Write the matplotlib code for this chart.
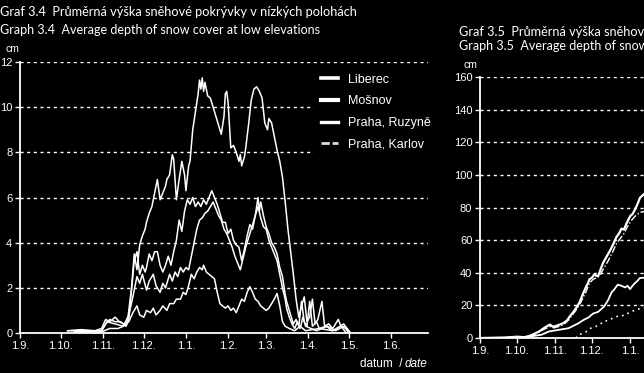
import matplotlib
matplotlib.use("Agg")
import matplotlib.pyplot as plt
from matplotlib.lines import Line2D

# days counted from 1 September
month_days = [0, 30, 61, 91, 122, 153, 181, 212, 242, 273]
month_labels = ["1.9.", "1.10.", "1.11.", "1.12.", "1.1.", "1.2.", "1.3.", "1.4.", "1.5.", "1.6."]

# --- Graph 3.4 (low elevations), cm
liberec_d = [35, 45, 55, 60, 63, 66, 70, 73, 76, 79, 82, 84, 86, 88, 90, 92, 93, 95, 97, 99, 101, 103,
             105, 107, 108, 110, 112, 113, 115, 117, 119, 121, 122, 124, 125, 127, 129, 131, 132, 133,
             134, 135, 136, 138, 140, 142, 144, 146, 148, 150, 151, 152, 153, 154, 155, 157, 159, 161,
             162, 163, 165, 166, 168, 170, 172, 174, 176, 178, 180, 182, 183, 185, 187, 189, 191, 193,
             195, 197, 199, 201, 203, 205, 207, 209, 211, 213, 215, 217, 219, 222, 224, 227, 230, 234,
             236, 240, 243]
liberec_v = [0.1, 0.15, 0.1, 0.2, 0.6, 0.5, 0.7, 0.5, 0.4, 0.5, 2.0, 3.5, 2.8, 3.9, 4.3, 4.6, 4.9, 5.3,
             5.6, 6.2, 6.8, 5.9, 6.2, 6.5, 6.8, 7.0, 7.9, 7.7, 5.9, 6.8, 7.6, 7.0, 6.3, 7.4, 7.6, 9.0,
             9.8, 10.6, 11.2, 10.8, 11.3, 10.7, 11.1, 10.5, 10.4, 10.0, 9.6, 9.2, 8.8, 9.6, 10.6, 10.7,
             10.2, 9.2, 8.2, 8.3, 8.0, 7.6, 7.9, 7.4, 7.8, 8.2, 9.2, 10.3, 10.8, 10.9, 10.7, 10.4, 9.3,
             9.0, 9.5, 9.3, 8.7, 8.1, 7.6, 6.9, 5.8, 4.6, 3.6, 2.6, 1.5, 0.7, 1.2, 1.6, 0.5, 0.7, 1.5,
             0.4, 0.6, 1.4, 0.3, 0.4, 0.2, 0.6, 0.3, 0.2, 0.0]

ruzyne_d = [35, 50, 60, 63, 66, 70, 74, 78, 80, 82, 84, 86, 88, 90, 92, 93, 95, 97, 99, 101, 103, 105,
            107, 109, 111, 113, 115, 117, 119, 121, 123, 125, 127, 129, 131, 133, 135, 137, 139, 141,
            143, 145, 147, 149, 151, 153, 155, 157, 159, 161, 163, 165, 167, 169, 171, 173, 175, 176,
            177, 179, 181, 183, 185, 187, 189, 191, 193, 195, 196, 198, 200, 201, 203, 205, 207, 209,
            211, 213, 215, 218, 220, 225, 230, 238, 243]
ruzyne_v = [0.1, 0.1, 0.1, 0.4, 0.6, 0.5, 0.5, 0.3, 0.6, 1.9, 3.2, 3.6, 2.6, 3.0, 2.7, 2.9, 3.5, 3.2,
            3.6, 3.6, 3.0, 2.7, 3.0, 3.4, 3.0, 3.6, 4.1, 5.0, 4.5, 5.4, 5.9, 5.7, 6.0, 5.6, 5.8, 5.6,
            5.9, 5.7, 6.0, 6.3, 6.0, 5.7, 5.3, 4.9, 4.9, 4.4, 4.6, 4.1, 3.9, 3.8, 3.2, 3.7, 4.3, 4.8,
            4.6, 5.2, 6.0, 5.4, 5.8, 5.2, 4.7, 4.4, 4.0, 3.8, 3.5, 2.9, 2.5, 1.7, 1.4, 1.0, 0.6, 0.4,
            0.6, 0.3, 1.4, 0.5, 0.3, 1.4, 0.3, 0.5, 0.2, 0.3, 0.1, 0.4, 0.0]

mosnov_d = [40, 60, 64, 70, 76, 80, 83, 86, 88, 90, 93, 95, 98, 100, 103, 105, 107, 110, 112, 114, 116,
            118, 120, 122, 124, 126, 128, 130, 132, 134, 136, 138, 140, 142, 144, 146, 148, 150, 152,
            154, 156, 158, 160, 162, 164, 166, 168, 170, 172, 174, 175, 177, 179, 181, 183, 185, 187,
            189, 191, 193, 195, 196, 198, 200, 202, 204, 206, 208, 210, 214, 218, 226, 232, 238, 242]
mosnov_v = [0.05, 0.1, 0.5, 0.4, 0.3, 0.8, 1.6, 2.5, 2.2, 2.6, 1.9, 2.3, 2.6, 2.1, 1.8, 2.2, 2.0, 2.6,
            2.3, 2.7, 2.5, 2.9, 2.7, 2.9, 2.8, 3.4, 4.0, 4.6, 5.0, 5.1, 5.3, 5.4, 5.6, 5.8, 5.5, 5.2,
            5.0, 4.6, 4.4, 4.1, 3.8, 3.4, 3.1, 2.8, 3.3, 3.8, 4.2, 4.6, 5.0, 5.4, 5.6, 5.1, 4.7, 4.6,
            4.1, 3.8, 3.5, 3.2, 2.6, 2.0, 1.5, 1.1, 0.7, 0.4, 0.2, 0.5, 0.2, 0.7, 0.3, 0.2, 0.1, 0.3,
            0.1, 0.3, 0.0]

karlov_d = [40, 60, 66, 72, 76, 80, 83, 86, 88, 91, 93, 96, 98, 100, 103, 105, 108, 110, 113, 115, 118,
            120, 122, 124, 126, 128, 130, 132, 134, 135, 137, 139, 141, 143, 145, 147, 149, 151, 153,
            155, 157, 159, 161, 163, 165, 167, 169, 171, 173, 175, 177, 179, 181, 183, 185, 187, 189,
            191, 193, 195, 198, 202, 206, 210, 220, 230, 236, 240]
karlov_v = [0.05, 0.05, 0.2, 0.2, 0.3, 0.5, 0.9, 1.2, 0.8, 0.7, 1.0, 0.9, 1.1, 0.8, 1.0, 1.2, 1.0, 1.3,
            1.3, 1.5, 1.5, 1.8, 1.7, 2.1, 2.6, 2.4, 2.7, 2.9, 2.8, 3.0, 2.7, 2.6, 2.5, 2.4, 1.8, 1.3,
            1.2, 1.1, 1.2, 1.0, 1.1, 0.9, 1.2, 1.5, 1.4, 1.8, 2.05, 1.8, 1.5, 1.4, 1.2, 1.1, 1.0, 1.1,
            1.3, 1.5, 1.75, 1.2, 0.5, 0.3, 0.2, 0.1, 0.3, 0.1, 0.2, 0.1, 0.3, 0.0]

# --- Graph 3.5 (high elevations), cm  (only the visible part)
high1_d = [0, 20, 30, 36, 40, 44, 48, 52, 55, 57, 59, 61, 64, 68, 71, 73, 76, 79, 81, 84, 86, 88, 89,
           91, 93, 95, 96, 98, 100, 103, 106, 108, 111, 113, 115, 117, 119, 122, 124, 126, 128, 130, 133, 136]
high1_v = [0, 0.2, 0.8, 0.5, 1.2, 2.5, 4, 6.1, 7.5, 8.2, 7.0, 7.2, 8.0, 9.2, 11, 13.3, 16, 19.4, 22,
           27.6, 31, 34, 36, 37, 39, 38, 37.8, 42, 46, 50, 54, 57, 62, 64, 67, 66.5, 70, 74.6, 76,
           78.7, 82, 85.9, 88, 90]
high2_d = [0, 30, 40, 46, 50, 54, 57, 60, 64, 68, 72, 75, 78, 82, 86, 89, 92, 95, 98, 100, 104, 108,
           111, 114, 117, 120, 123, 126, 130, 136]
high2_v = [0, 0.5, 1, 3, 4.5, 6, 7, 6.2, 7, 8.2, 11, 14, 17, 22, 28, 33.7, 36, 37, 39, 42, 47, 53, 58,
           61, 64, 68.5, 72, 74.6, 77, 78]
high3_d = [0, 30, 40, 50, 56, 60, 64, 68, 72, 76, 80, 84, 88, 92, 96, 99, 101, 104, 107, 109, 112, 115,
           118, 120, 122, 124, 126, 128, 130, 136]
high3_v = [0, 0.3, 0.8, 2, 4, 4.5, 5, 5.5, 6, 7.5, 9, 11, 12.5, 15, 16, 18, 19.4, 23, 28, 29.6, 32.7,
           32, 31, 32, 30, 32, 33.7, 35, 36.8, 37]
high4_d = [78, 80, 84, 88, 90, 94, 98, 100, 105, 110, 114, 118, 122, 126, 130, 136]
high4_v = [0, 2, 3, 4.5, 6, 7, 8.5, 10, 11, 13, 13.5, 14, 16, 17, 18, 18.6]

BG = "black"
FG = "white"
plt.rcParams["font.family"] = ["Liberation Sans Narrow", "Liberation Sans", "DejaVu Sans"]
plt.rcParams["text.color"] = FG

fig = plt.figure(figsize=(6.44, 3.73), dpi=100, facecolor=BG)
W, H = 644.0, 373.0


def style_axes(ax, yticks, nlab):
    ax.set_facecolor(BG)
    for s in ["top", "right"]:
        ax.spines[s].set_visible(False)
    for s in ["left", "bottom"]:
        ax.spines[s].set_color(FG)
        ax.spines[s].set_linewidth(1.3)
    ax.set_xlim(0, 300)
    ax.set_xticks(month_days[:nlab])
    ax.set_xticklabels(month_labels[:nlab])
    ax.set_yticks(yticks)
    ax.tick_params(colors=FG, labelsize=8, length=3.5, width=1, direction="out", pad=2)
    for y in yticks[1:]:
        ax.axhline(y, color=FG, lw=1.0, dashes=(2.2, 2.6), zorder=1)


# left chart
ax1 = fig.add_axes([20 / W, 1 - 333 / H, 408 / W, 271 / H])
style_axes(ax1, [0, 2, 4, 6, 8, 10, 12], len(month_days))
ax1.set_ylim(0, 12)
ax1.plot(liberec_d, liberec_v, color=FG, lw=1.1, zorder=3)
ax1.plot(ruzyne_d, ruzyne_v, color=FG, lw=1.1, zorder=3)
ax1.plot(mosnov_d, mosnov_v, color=FG, lw=1.1, zorder=3)
ax1.plot(karlov_d, karlov_v, color=FG, lw=1.1, zorder=3)

handles = [Line2D([], [], color=FG, lw=2.6),
           Line2D([], [], color=FG, lw=3.0),
           Line2D([], [], color=FG, lw=2.4),
           Line2D([], [], color="#dddddd", lw=2.0, dashes=(3, 1))]
leg = ax1.legend(handles, ["Liberec", "Mošnov", "Praha, Ruzyně", "Praha, Karlov"],
                 loc="upper left", bbox_to_anchor=(0.72, 0.985), borderaxespad=0,
                 fontsize=9, handlelength=1.3, handletextpad=0.8, labelspacing=0.78,
                 borderpad=0.6, facecolor=BG, edgecolor=BG, framealpha=1, fancybox=False)
leg.set_zorder(5)
for t in leg.get_texts():
    t.set_color(FG)

# right chart (runs off the page)
ax2 = fig.add_axes([480 / W, 1 - 338 / H, 369 / W, 261 / H])
style_axes(ax2, [0, 20, 40, 60, 80, 100, 120, 140, 160], 5)
ax2.set_ylim(0, 160)
ax2.plot(high1_d, high1_v, color=FG, lw=1.6, zorder=3)
ax2.plot(high2_d, high2_v, color=FG, lw=1.0, dashes=(5, 1.5, 1, 1.5), zorder=3)
ax2.plot(high3_d, high3_v, color=FG, lw=1.3, zorder=3)
ax2.plot(high4_d, high4_v, color=FG, lw=1.2, dashes=(1, 2.5), zorder=3)

# titles and small labels
tfont = ["Lato", "DejaVu Sans"]
fig.text(0 / W, 1 - 12 / H, "Graf 3.4  Průměrná výška sněhové pokrývky v nízkých polohách",
         fontsize=9.2, family=tfont, va="center", ha="left")
fig.text(0 / W, 1 - 30 / H, "Graph 3.4  Average depth of snow cover at low elevations",
         fontsize=9.0, family=tfont, va="center", ha="left")
fig.text(459 / W, 1 - 32 / H, "Graf 3.5  Průměrná výška sněhové pokrývky ve vyšších polohách",
         fontsize=9.2, family=tfont, va="center", ha="left")
fig.text(459 / W, 1 - 46 / H, "Graph 3.5  Average depth of snow cover at high elevations",
         fontsize=9.0, family=tfont, va="center", ha="left")
fig.text(5 / W, 1 - 49 / H, "cm", fontsize=7.5, va="center", ha="left")
fig.text(463 / W, 1 - 65 / H, "cm", fontsize=7.5, va="center", ha="left")
fig.text(402 / W, 1 - 364 / H, "datum  /", fontsize=8.5, ha="right", va="center")
fig.text(405 / W, 1 - 364 / H, "date", fontsize=8.5, style="italic", ha="left", va="center")

fig.savefig("out.png", dpi=100, facecolor=BG)
